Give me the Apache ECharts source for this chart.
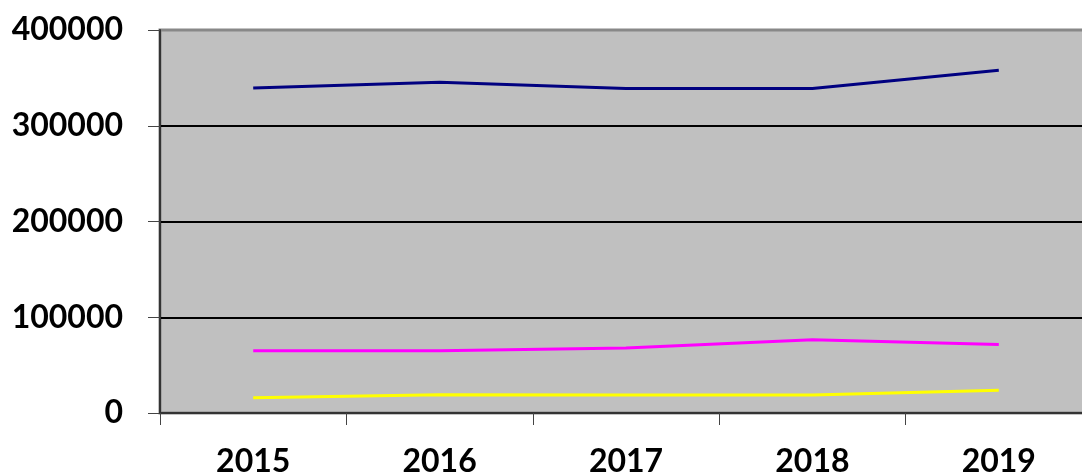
<!DOCTYPE html>
<html>
<head>
<meta charset="utf-8">
<script src="https://cdn.jsdelivr.net/npm/echarts@6/dist/echarts.min.js"></script>
<style>
html,body{margin:0;padding:0;background:#fff;}
#c{width:1082px;height:475px;}
</style>
</head>
<body>
<div id="c"></div>
<script>
const years = ['2015','2016','2017','2018','2019'];
const seriesNavy = [339500, 345500, 339000, 339000, 358000];
const seriesMagenta = [65000, 65000, 68000, 76500, 71500];
const seriesYellow = [16000, 19000, 18800, 18800, 23700];
const yTicks = [0, 100000, 200000, 300000, 400000];

const chart = echarts.init(document.getElementById('c'));
const font = 'Lato, "Open Sans", sans-serif';
chart.setOption({
  animation: false,
  grid: {left: 160, top: 30, width: 932, bottom: 62, show: true, containLabel: false,
         outerBoundsMode: 'none',
         backgroundColor: '#c0c0c0', borderColor: '#888', borderWidth: 3},
  xAxis: {
    type: 'category', data: years, boundaryGap: true,
    axisLine: {lineStyle: {color: '#333', width: 2}},
    axisTick: {show: true, length: 12, lineStyle: {color: '#444', width: 1}},
    axisLabel: {margin: 33, fontSize: 32, fontWeight: 'bold', color: '#000', fontFamily: font},
    z: 5
  },
  yAxis: {
    type: 'value', min: yTicks[0], max: yTicks[yTicks.length-1], interval: 100000,
    axisLine: {show: true, lineStyle: {color: '#333', width: 2}},
    axisTick: {show: true, length: 12, lineStyle: {color: '#444', width: 1}},
    axisLabel: {margin: 37, fontSize: 32, fontWeight: 'bold', color: '#000', fontFamily: font,
                formatter: v => String(v)},
    splitLine: {show: true, lineStyle: {color: ['#000','#000','#000','#000','#888'], width: 2}}
  },
  series: [
    {type: 'line', data: seriesNavy, symbol: 'none', lineStyle: {color: '#000080', width: 3}},
    {type: 'line', data: seriesMagenta, symbol: 'none', lineStyle: {color: '#ff00ff', width: 3}},
    {type: 'line', data: seriesYellow, symbol: 'none', lineStyle: {color: '#ffff00', width: 3}}
  ]
});
</script>
</body>
</html>
